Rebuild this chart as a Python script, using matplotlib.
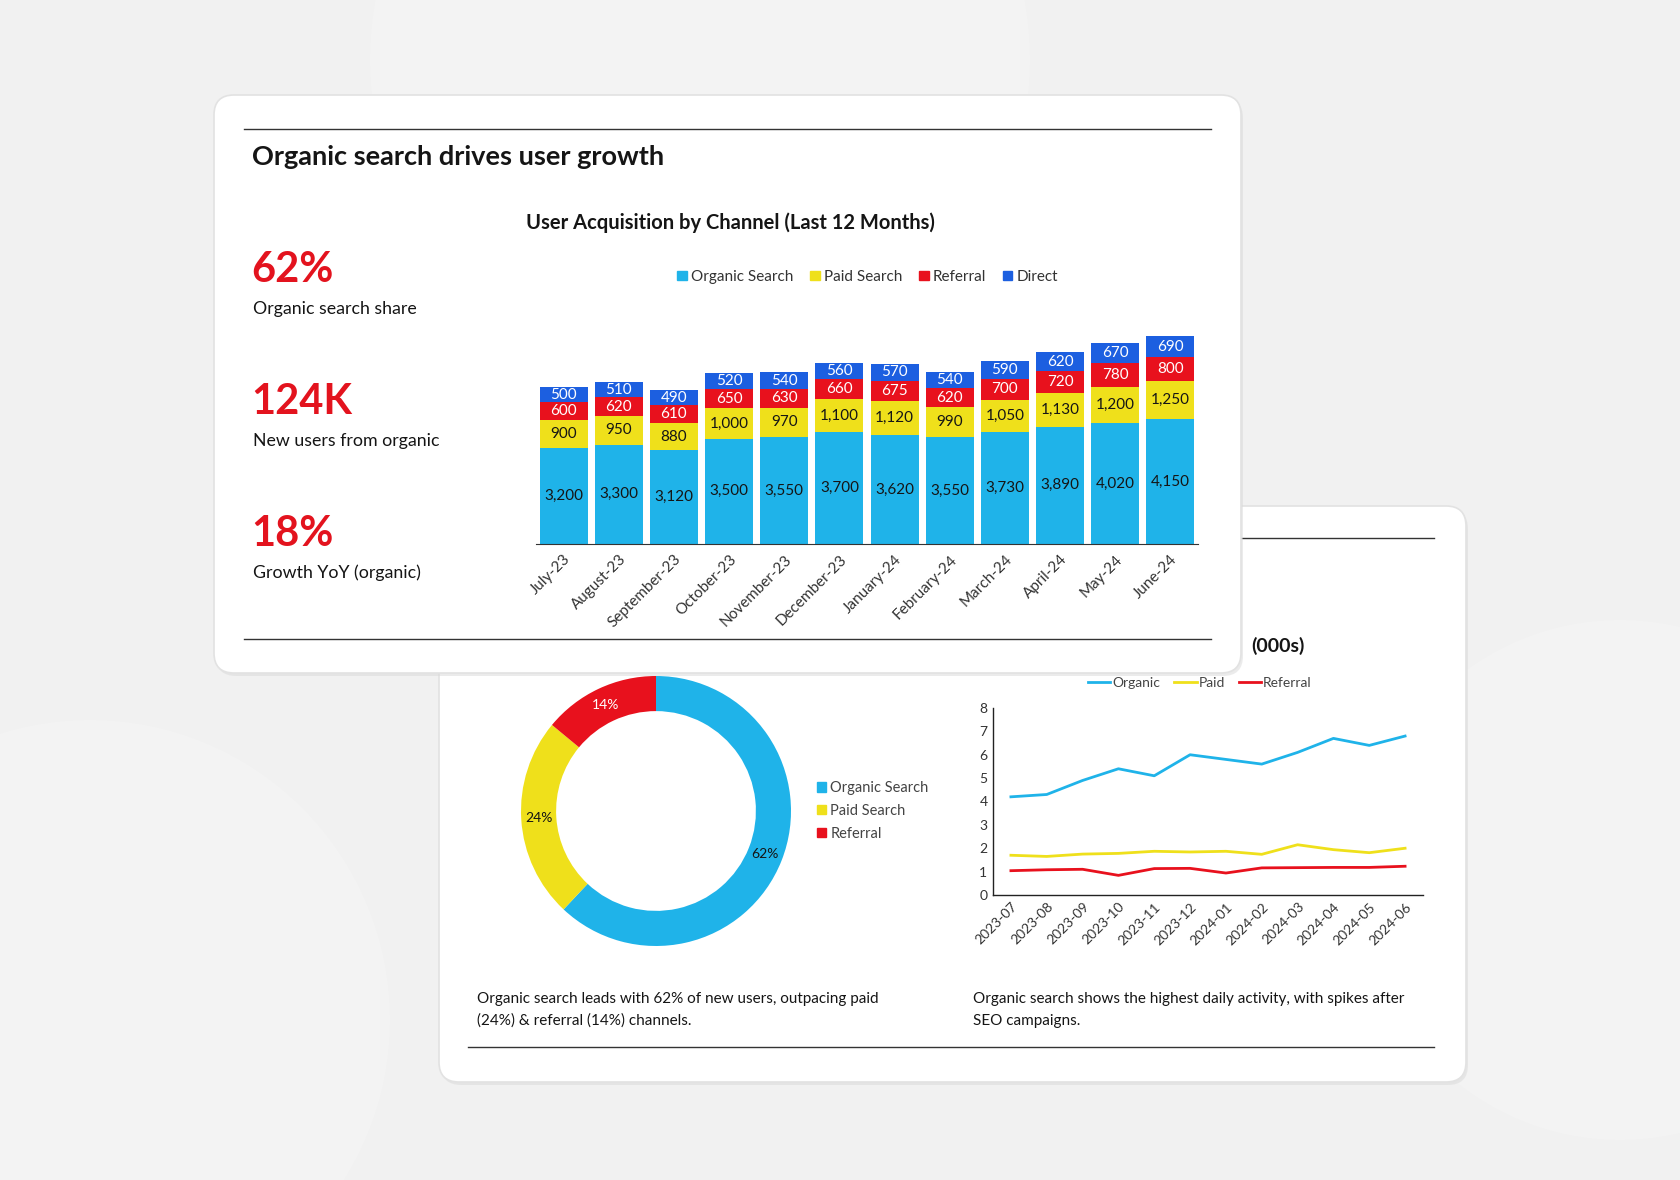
import matplotlib
matplotlib.use("Agg")
import matplotlib.pyplot as plt
from matplotlib.patches import FancyBboxPatch, Circle, Patch

plt.rcParams['font.family'] = ['Lato', 'DejaVu Sans']

W, H = 1680, 1180

# ---- data ----
months = ['July-23', 'August-23', 'September-23', 'October-23', 'November-23', 'December-23',
          'January-24', 'February-24', 'March-24', 'April-24', 'May-24', 'June-24']
organic = [3200, 3300, 3120, 3500, 3550, 3700, 3620, 3550, 3730, 3890, 4020, 4150]
paid = [900, 950, 880, 1000, 970, 1100, 1120, 990, 1050, 1130, 1200, 1250]
referral = [600, 620, 610, 650, 630, 660, 675, 620, 700, 720, 780, 800]
direct = [500, 510, 490, 520, 540, 560, 570, 540, 590, 620, 670, 690]

share_labels = ['Organic Search', 'Paid Search', 'Referral']
share_values = [62, 24, 14]

line_months = ['2023-07', '2023-08', '2023-09', '2023-10', '2023-11', '2023-12',
               '2024-01', '2024-02', '2024-03', '2024-04', '2024-05', '2024-06']
daily_organic = [4.2, 4.3, 4.9, 5.4, 5.1, 6.0, 5.8, 5.6, 6.1, 6.7, 6.4, 6.8]
daily_paid = [1.7, 1.65, 1.75, 1.78, 1.87, 1.84, 1.87, 1.74, 2.15, 1.94, 1.81, 2.0]
daily_referral = [1.04, 1.08, 1.1, 0.84, 1.13, 1.14, 0.94, 1.16, 1.17, 1.18, 1.18, 1.23]

kpis = [('62%', 'Organic search share'), ('124K', 'New users from organic'), ('18%', 'Growth YoY (organic)')]

C_ORG = '#1fb3e9'
C_PAID = '#efe01b'
C_REF = '#e8111d'
C_DIR = '#1c5fe0'
C_KPI = '#e3131e'
TXT = '#151515'


def rect(x, y, w, h):
    # pixel box (top-left origin) -> figure fraction
    return [x / W, 1 - (y + h) / H, w / W, h / H]


fig = plt.figure(figsize=(16.8, 11.8), dpi=100)
fig.patch.set_facecolor('#f1f1f1')

# ---- background + back card ----
bg = fig.add_axes([0, 0, 1, 1], zorder=0)
bg.set_xlim(0, W)
bg.set_ylim(H, 0)
bg.axis('off')
for cx, cy, r in [(700, 60, 330), (1620, 880, 260), (90, 1020, 300)]:
    bg.add_patch(Circle((cx, cy), r, facecolor='white', alpha=0.15, edgecolor='none'))


def card(ax, x0, y0, x1, y1):
    ax.add_patch(FancyBboxPatch((x0 + 2, y0 + 3), x1 - x0, y1 - y0,
                                boxstyle='round,pad=0,rounding_size=20',
                                facecolor='#d9d9d9', edgecolor='none', alpha=0.5))
    ax.add_patch(FancyBboxPatch((x0, y0), x1 - x0, y1 - y0,
                                boxstyle='round,pad=0,rounding_size=20',
                                facecolor='white', edgecolor='#e2e2e2', lw=1.2))


card(bg, 439, 506, 1466, 1082)
bg.plot([468, 1434], [538, 538], color='#333333', lw=1)
bg.plot([468, 1434], [1047, 1047], color='#333333', lw=1)
bg.text(1305, 646, '(000s)', ha='right', va='center', fontsize=14, fontweight='bold', color=TXT)
bg.text(477, 999, 'Organic search leads with 62% of new users, outpacing paid',
        ha='left', va='center', fontsize=11, color=TXT)
bg.text(477, 1021, '(24%) & referral (14%) channels.', ha='left', va='center', fontsize=11, color=TXT)
bg.text(973, 999, 'Organic search shows the highest daily activity, with spikes after',
        ha='left', va='center', fontsize=11, color=TXT)
bg.text(973, 1021, 'SEO campaigns.', ha='left', va='center', fontsize=11, color=TXT)

# ---- donut ----
dax = fig.add_axes(rect(656 - 135, 811 - 135, 270, 270), zorder=1)
wedges, texts, autotexts = dax.pie(share_values, colors=[C_ORG, C_PAID, C_REF], startangle=90,
                                   counterclock=False, autopct=lambda p: f'{p:.0f}%',
                                   pctdistance=0.87, wedgeprops=dict(width=0.26, linewidth=0),
                                   textprops=dict(fontsize=10))
for t, c in zip(autotexts, [TXT, TXT, 'white']):
    t.set_color(c)
dax.set_xlim(-1, 1)
dax.set_ylim(-1, 1)
dax.set_aspect('equal')
dax.legend(handles=[Patch(color=c) for c in [C_ORG, C_PAID, C_REF]], labels=share_labels,
           loc='upper left', bbox_to_anchor=(804 / W, 1 - 768 / H), bbox_transform=fig.transFigure,
           frameon=False, fontsize=10.5, handlelength=0.6, handleheight=0.6, handletextpad=0.3,
           labelspacing=0.6, labelcolor='#444444')

# ---- line chart ----
lax = fig.add_axes(rect(993, 708, 430, 187), zorder=1)
x = range(len(line_months))
lax.plot(x, daily_organic, color=C_ORG, lw=2, label='Organic')
lax.plot(x, daily_paid, color=C_PAID, lw=2, label='Paid')
lax.plot(x, daily_referral, color=C_REF, lw=2, label='Referral')
lax.set_xlim(-0.5, 11.5)
lax.set_ylim(0, 8)
lax.set_yticks(range(9))
lax.set_xticks(list(x))
lax.set_xticklabels(line_months, rotation=45, ha='right', rotation_mode='anchor')
lax.tick_params(length=0, labelsize=10, colors='#333333', pad=4)
for s in ['top', 'right']:
    lax.spines[s].set_visible(False)
for s in ['left', 'bottom']:
    lax.spines[s].set_color('#222222')
    lax.spines[s].set_linewidth(1)
lax.legend(loc='center', bbox_to_anchor=(1200 / W, 1 - 683 / H), bbox_transform=fig.transFigure,
           ncol=3, frameon=False, fontsize=10, handlelength=1.6, handletextpad=0.15,
           columnspacing=1.0, labelcolor='#444444')

# ---- front card ----
fa = fig.add_axes([0, 0, 1, 1], zorder=2)
fa.set_xlim(0, W)
fa.set_ylim(H, 0)
fa.axis('off')
fa.patch.set_alpha(0)
card(fa, 214, 95, 1241, 673)
fa.plot([244, 1211], [129, 129], color='#333333', lw=1)
fa.plot([244, 1211], [639, 639], color='#333333', lw=1)
fa.text(252, 157, 'Organic search drives user growth', ha='left', va='center',
        fontsize=19.5, fontweight='bold', color=TXT)
fa.text(730, 223, 'User Acquisition by Channel (Last 12 Months)', ha='center', va='center',
        fontsize=14.5, fontweight='bold', color=TXT)
for i, (val, lab) in enumerate(kpis):
    y0 = 270 + i * 132
    fa.text(251, y0, val, ha='left', va='center', fontsize=30, fontweight='bold', color=C_KPI)
    fa.text(253, y0 + 39, lab, ha='left', va='center', fontsize=12.8, color=TXT)

# ---- stacked bars ----
bax = fig.add_axes(rect(536, 333, 662, 211), zorder=3)
xb = range(len(months))
bottom = [0] * len(months)
for vals, col, tcol in [(organic, C_ORG, TXT), (paid, C_PAID, TXT),
                        (referral, C_REF, 'white'), (direct, C_DIR, 'white')]:
    bars = bax.bar(xb, vals, bottom=bottom, width=0.87, color=col, edgecolor='none')
    bax.bar_label(bars, labels=[f'{v:,}' for v in vals], label_type='center',
                  fontsize=11, color=tcol)
    bottom = [b + v for b, v in zip(bottom, vals)]
bax.set_xlim(-0.5, 11.5)
bax.set_ylim(0, 7000)
bax.set_yticks([])
bax.set_xticks(list(xb))
bax.set_xticklabels(months, rotation=45, ha='right', rotation_mode='anchor')
bax.tick_params(length=0, labelsize=11, colors='#333333', pad=6)
for s in ['top', 'right', 'left']:
    bax.spines[s].set_visible(False)
bax.spines['bottom'].set_color('#333333')
bax.patch.set_alpha(0)
bax.legend(handles=[Patch(color=c) for c in [C_ORG, C_PAID, C_REF, C_DIR]],
           labels=['Organic Search', 'Paid Search', 'Referral', 'Direct'],
           loc='center', bbox_to_anchor=(868 / W, 1 - 277 / H), bbox_transform=fig.transFigure,
           ncol=4, frameon=False, fontsize=11, handlelength=0.6, handleheight=0.6,
           handletextpad=0.3, columnspacing=1.1, labelcolor='#333333')

fig.savefig('out.png', dpi=100, facecolor=fig.get_facecolor())
